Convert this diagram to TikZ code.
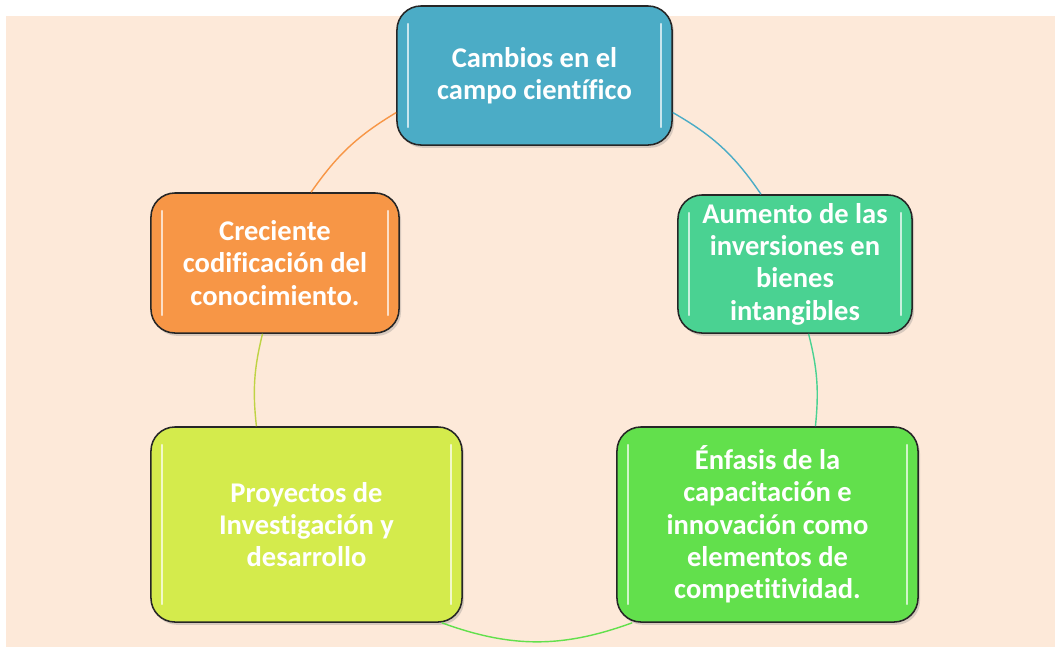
\documentclass[tikz,border=0pt]{standalone}
\usepackage{fontspec}
\setmainfont{Carlito}[Ligatures=NoCommon]
\usepackage{tikz}
\usetikzlibrary{shadows}

\definecolor{peach}{RGB}{253,233,217}
\definecolor{cblue}{RGB}{75,172,198}
\definecolor{cteal}{RGB}{74,210,146}
\definecolor{cgreen}{RGB}{98,224,76}
\definecolor{cyellow}{RGB}{212,235,76}
\definecolor{corange}{RGB}{247,150,70}

\begin{document}
\begin{tikzpicture}[x=0.025cm, y=-0.025cm,
    box/.style={rectangle, rounded corners=0.6cm, draw=black!85, line width=1.1pt,
      inner sep=0pt, align=center, text=white,
      font=\bfseries\fontsize{20.3}{23}\selectfont,
      drop shadow={opacity=.3, shadow xshift=.05cm, shadow yshift=-.07cm},
      path picture={
        \draw[white, opacity=.7, line width=1.6pt, line cap=round]
          ([xshift=.28cm,yshift=-.45cm]path picture bounding box.north west) --
          ([xshift=.28cm,yshift=.45cm]path picture bounding box.south west)
          ([xshift=-.28cm,yshift=-.45cm]path picture bounding box.north east) --
          ([xshift=-.28cm,yshift=.45cm]path picture bounding box.south east);
      }},
    link/.style={line width=1pt}
    ]
    \useasboundingbox (0,0) rectangle (1055,647);
    \fill[peach] (6,16) rectangle (1055,647);

    \node[box, fill=cblue, minimum width=6.875cm, minimum height=3.475cm]
      (cambios) at (534.5,75.5) {Cambios en el\\campo científico};
    \node[box, fill=cteal, minimum width=5.85cm, minimum height=3.45cm]
      (aumento) at (795,264) {Aumento de las\\inversiones en\\bienes\\intangibles};
    \node[box, fill=cgreen, minimum width=7.525cm, minimum height=4.875cm]
      (enfasis) at (767.5,524.5) {Énfasis de la\\capacitación e\\innovación como\\elementos de\\competitividad.};
    \node[box, fill=cyellow, minimum width=7.775cm, minimum height=4.875cm]
      (proyectos) at (306.5,524.5) {Proyectos de\\Investigación y\\desarrollo};
    \node[box, fill=corange, minimum width=6.2cm, minimum height=3.5cm]
      (creciente) at (275,263) {Creciente\\codificación del\\conocimiento.};

    % arcs of the cycle
    \draw[link, cblue] (cambios.-15) to[bend left=13] (aumento.116);
    \draw[link, cteal] (aumento.-79) to[bend left=10] (enfasis.64);
    \draw[link, cgreen] (enfasis.-144) to[bend left=20] (proyectos.-36);
    \draw[link, cyellow!90!black] (proyectos.117) to[bend left=10] (creciente.-100);
    \draw[link, corange] (creciente.63) to[bend left=12] (cambios.195);
  \end{tikzpicture}
\end{document}
